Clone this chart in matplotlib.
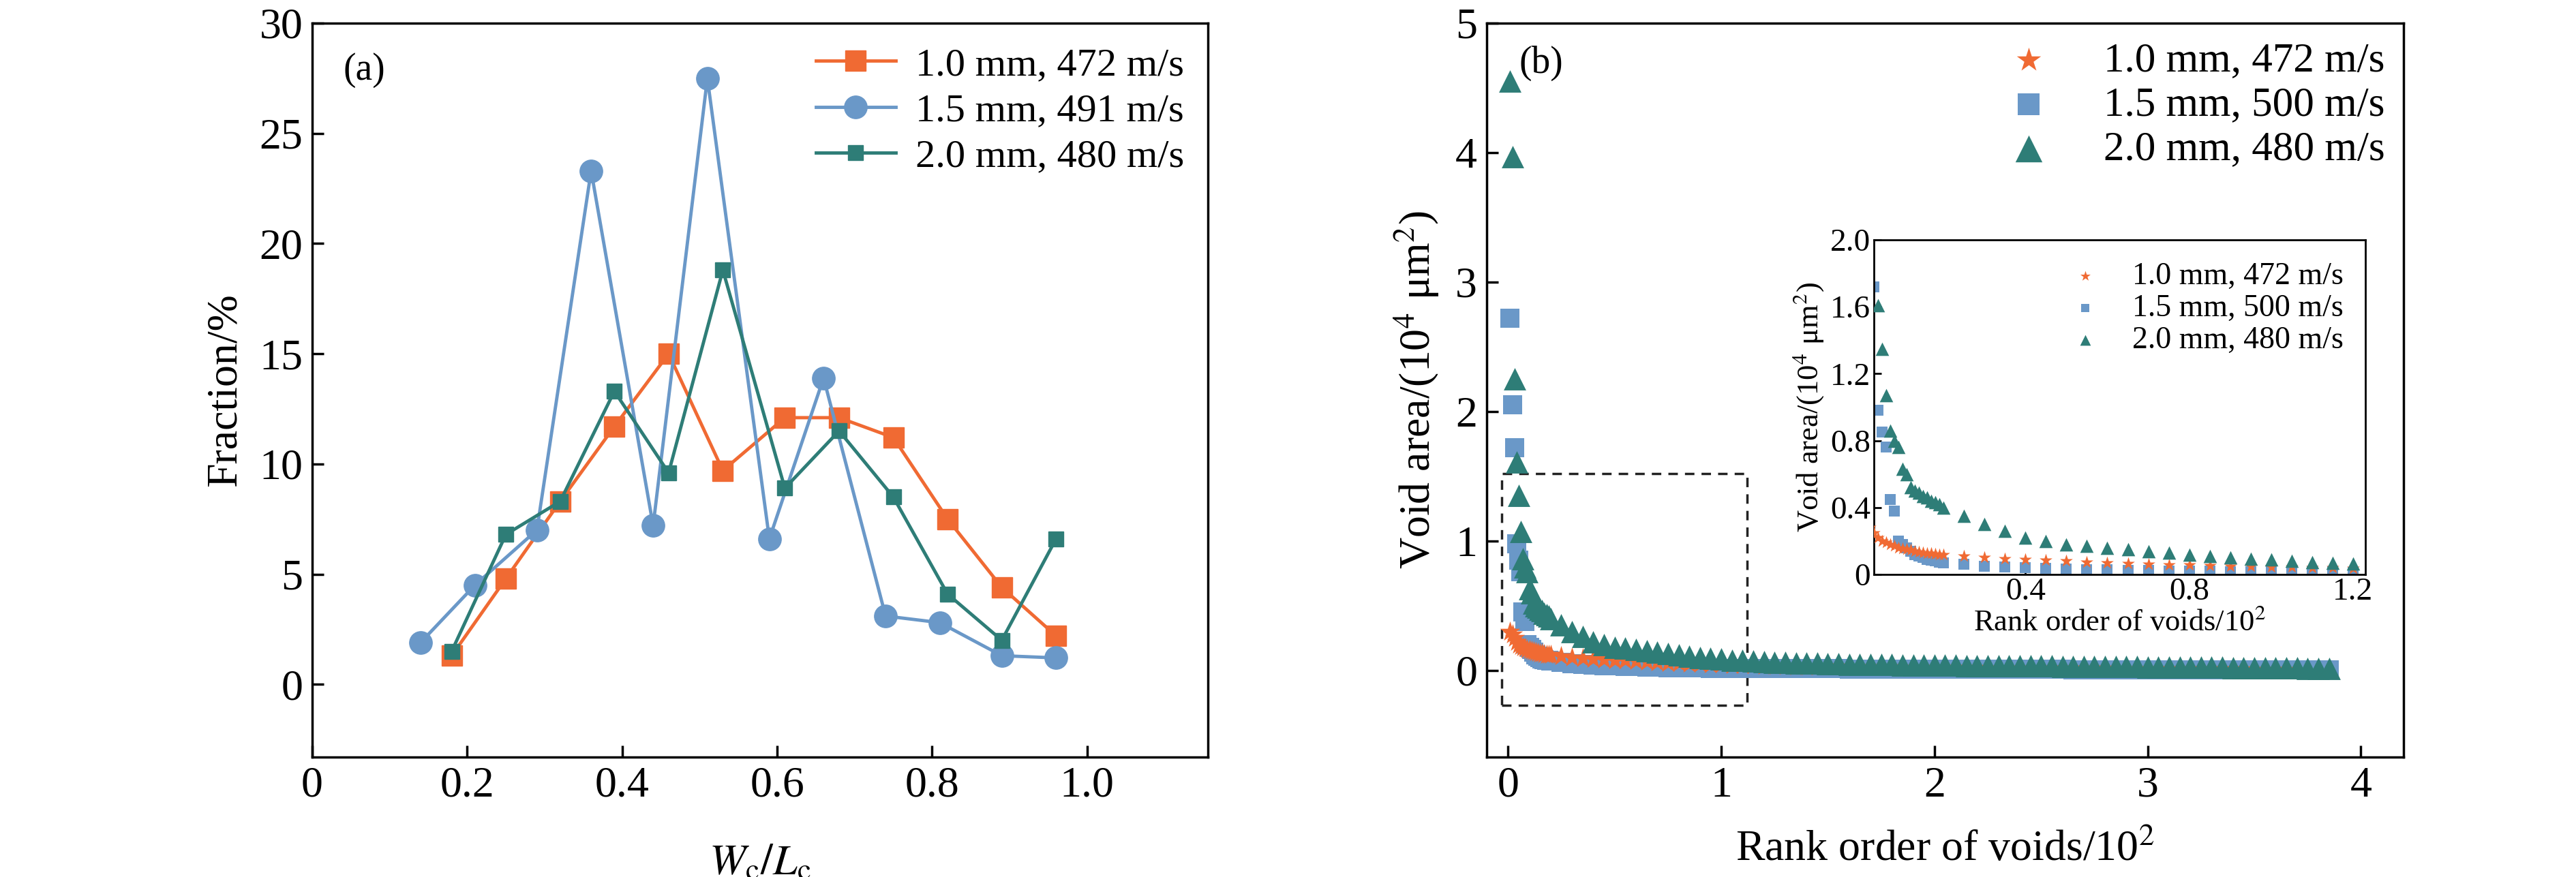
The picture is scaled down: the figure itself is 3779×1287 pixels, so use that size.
import numpy as np
import matplotlib
matplotlib.use("Agg")
import matplotlib.pyplot as plt
from matplotlib.patches import Rectangle

plt.rcParams['font.family'] = ['Liberation Serif', 'DejaVu Serif']
plt.rcParams['mathtext.fontset'] = 'stix'

# ---- panel (a) data ----
xa_o = [0.18,0.25,0.32,0.39,0.46,0.53,0.61,0.68,0.75,0.82,0.89,0.96]
ya_o = [1.3,4.8,8.3,11.7,15.0,9.7,12.1,12.1,11.2,7.5,4.4,2.2]
xa_b = [0.14,0.21,0.29,0.36,0.44,0.51,0.59,0.66,0.74,0.81,0.89,0.96]
ya_b = [1.9,4.5,7.0,23.3,7.2,27.5,6.6,13.9,3.1,2.8,1.3,1.2]
xa_g = [0.18,0.25,0.32,0.39,0.46,0.53,0.61,0.68,0.75,0.82,0.89,0.96]
ya_g = [1.5,6.8,8.3,13.3,9.6,18.8,8.9,11.5,8.5,4.1,2.0,6.6]
labels_a = ['1.0 mm, 472 m/s', '1.5 mm, 491 m/s', '2.0 mm, 480 m/s']

# ---- panel (b) data: void areas (10^4 um^2) by rank; head ranks 1..19, tail every 5 ranks from 20 ----
o_head = [0.30,0.28,0.25,0.22,0.20,0.19,0.18,0.17,0.16,0.155,0.15,0.145,0.14,0.135,0.13,0.128,0.125,0.122,0.12]
o_tail = [0.118,0.11,0.10,0.095,0.09,0.085,0.08,0.075,0.07,0.066,0.062,0.058,0.055,0.052,0.05,0.047,0.045,0.043,
          0.041,0.039,0.037,0.035,0.033,0.032,0.031,0.030,0.029,0.028,0.027,0.026,0.025,0.024,0.023,0.022,0.021,
          0.020,0.020,0.019,0.019,0.018,0.018,0.017,0.017,0.016,0.016,0.015,0.015,0.014,0.014,0.013,0.013,0.012,
          0.012,0.011,0.011,0.010,0.010,0.010,0.009,0.009,0.009,0.008,0.008,0.008,0.007,0.007,0.006,0.006,0.005,0.005]
b_head = [2.72,2.05,1.72,0.98,0.85,0.76,0.45,0.38,0.20,0.18,0.16,0.14,0.12,0.11,0.10,0.09,0.085,0.08,0.075]
b_tail = [0.07,0.06,0.05,0.045,0.04,0.036,0.033,0.030,0.028,0.026,0.024,0.022,0.020,0.019,0.018,0.017,0.016,0.016,
          0.015,0.015,0.014,0.014,0.013,0.013,0.013,0.012,0.012,0.012,0.011,0.011,0.011,0.010,0.010,0.010,0.010,
          0.009,0.009,0.009,0.009,0.008,0.008,0.008,0.008,0.008,0.007,0.007,0.007,0.007,0.007,0.006,0.006,0.006,
          0.006,0.006,0.006,0.005,0.005,0.005,0.005,0.005,0.005,0.005,0.004,0.004,0.004,0.004,0.004,0.004,0.004,
          0.004,0.003,0.003,0.003,0.003]
g_head = [4.55,3.97,2.25,1.61,1.35,1.07,0.86,0.80,0.76,0.63,0.60,0.52,0.50,0.49,0.47,0.46,0.44,0.43,0.42]
g_tail = [0.40,0.35,0.30,0.26,0.22,0.20,0.18,0.17,0.16,0.15,0.14,0.13,0.12,0.11,0.10,0.095,0.09,0.08,0.075,0.07,
          0.065,0.062,0.06,0.058,0.056,0.054,0.052,0.05,0.048,0.047,0.046,0.045,0.044,0.043,0.042,0.041,0.040,
          0.039,0.039,0.038,0.037,0.037,0.036,0.035,0.035,0.034,0.033,0.033,0.032,0.031,0.031,0.030,0.030,0.029,
          0.028,0.028,0.027,0.027,0.026,0.025,0.025,0.024,0.024,0.023,0.022,0.022,0.021,0.021,0.020,0.019,0.018,
          0.017,0.016,0.015]
labels_b = ['1.0 mm, 472 m/s', '1.5 mm, 500 m/s', '2.0 mm, 480 m/s']

C_O, C_B, C_G = '#F06A33', '#6A98C8', '#2E7D77'

def series(head, tail):
    r = list(range(1, len(head) + 1)) + list(range(20, 20 + 5 * len(tail), 5))
    return np.array(r) / 100.0, np.array(head + tail)

xo, yo = series(o_head, o_tail)
xb, yb = series(b_head, b_tail)
xg, yg = series(g_head, g_tail)

W, H = 3780, 1287
fig = plt.figure(figsize=(37.8, 12.87), dpi=100)

def rect(l, t, r, b):
    return [l / W, 1 - b / H, (r - l) / W, (b - t) / H]

FS = 46
# ---- (a) ----
ax = fig.add_axes(rect(458, 34, 1772, 1111))
ax.plot(xa_o, ya_o, '-s', color=C_O, lw=3.5, ms=22, label=labels_a[0])
ax.plot(xa_b, ya_b, '-o', color=C_B, lw=3.5, ms=24, label=labels_a[1])
ax.plot(xa_g, ya_g, '-s', color=C_G, lw=3.5, ms=16, label=labels_a[2])
ax.set_xlim(0, 1.156)
ax.set_ylim(-3.3, 30)
ax.set_xticks([0, 0.2, 0.4, 0.6, 0.8, 1.0])
ax.set_xticklabels(['0', '0.2', '0.4', '0.6', '0.8', '1.0'])
ax.set_yticks([0, 5, 10, 15, 20, 25, 30])
ax.set_xlabel(r'$W_{\rm c}/L_{\rm c}$', fontsize=FS, labelpad=40)
ax.set_ylabel('Fraction/%', fontsize=FS, labelpad=15)
ax.text(0.035, 0.96, '(a)', transform=ax.transAxes, fontsize=40, va='top')
ax.legend(loc='upper right', fontsize=42, frameon=False, handlelength=2.0,
          borderaxespad=0.2, labelspacing=0.25, handletextpad=0.5)

# ---- (b) ----
bx = fig.add_axes(rect(2181, 34, 3526, 1111))
bx.scatter(xo, yo, marker='*', s=500, color=C_O, lw=0, label=labels_b[0], zorder=3)
bx.scatter(xb, yb, marker='s', s=380, color=C_B, lw=0, label=labels_b[1], zorder=2)
bx.scatter(xg, yg, marker='^', s=560, color=C_G, lw=0, label=labels_b[2], zorder=4)
bx.set_xlim(-0.10, 4.2)
bx.set_ylim(-0.67, 5.0)
bx.set_xticks([0, 1, 2, 3, 4])
bx.set_yticks([0, 1, 2, 3, 4, 5])
bx.set_xlabel(r'Rank order of voids/10$^2$', fontsize=FS, labelpad=25)
bx.set_ylabel(r'Void area/(10$^4$ μm$^2$)', fontsize=FS, labelpad=15)
bx.text(0.035, 0.97, '(b)', transform=bx.transAxes, fontsize=40, va='top')
bx.legend(loc='upper right', fontsize=44, frameon=False, markerscale=1.2,
          borderaxespad=0.05, labelspacing=0.15, handletextpad=0.8, scatterpoints=1)
bx.add_patch(Rectangle((-0.03, -0.27), 1.15, 1.79, fill=False, ls=(0, (4, 3)), lw=2.5, color='#222222', zorder=1))

# ---- inset ----
ix = fig.add_axes(rect(2749, 352, 3470, 843))
ix.scatter(xo, yo, marker='*', s=200, color=C_O, lw=0, label=labels_b[0], zorder=3)
ix.scatter(xb, yb, marker='s', s=120, color=C_B, lw=0, label=labels_b[1], zorder=2)
ix.scatter(xg, yg, marker='^', s=200, color=C_G, lw=0, label=labels_b[2], zorder=4)
ix.set_xlim(0.03, 1.23)
ix.set_ylim(0, 2.0)
ix.set_xticks([0.4, 0.8, 1.2])
ix.set_yticks([0, 0.4, 0.8, 1.2, 1.6, 2.0])
ix.set_yticklabels(['0', '0.4', '0.8', '1.2', '1.6', '2.0'])
ix.tick_params(labelsize=34, width=2, length=8, direction='in')
ix.set_xlabel(r'Rank order of voids/10$^2$', fontsize=32, labelpad=2)
ix.set_ylabel(r'Void area/(10$^4$ μm$^2$)', fontsize=32, labelpad=5)
ix.legend(loc='upper right', fontsize=33, frameon=False, borderaxespad=0.3, markerscale=0.8,
          labelspacing=0.1, handletextpad=0.5, scatterpoints=1)
for s in ix.spines.values():
    s.set_linewidth(2)

for a in (ax, bx):
    a.tick_params(labelsize=FS, width=2.5, length=12, direction='in', pad=10)
    for s in a.spines.values():
        s.set_linewidth(2.5)

fig.savefig('out.png', dpi=100)
